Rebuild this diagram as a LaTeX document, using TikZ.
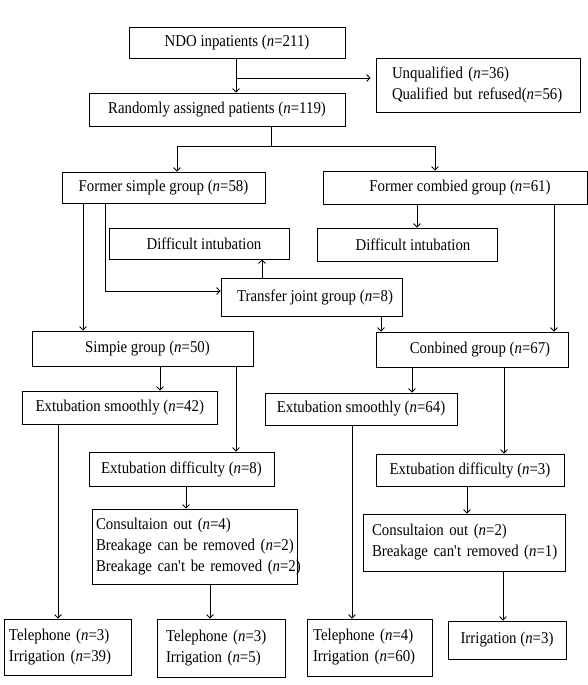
\documentclass[tikz,border=0pt]{standalone}
\usepackage{fontspec}
\setmainfont{Liberation Serif}[FakeStretch=0.9]
\usetikzlibrary{arrows.meta}
\newcommand\nn[1]{(\textit{n}=#1)}
\newcommand\apo{\textquotesingle}
\begin{document}
\begin{tikzpicture}[x=1pt,y=-1pt,
  box/.style={draw, line width=0.8pt, inner sep=0pt, font=\fontsize{16.5}{21}\selectfont},
  cbox/.style={box, minimum width=#1},
  lbox/.style={box, align=left, text width=#1},
  arr/.style={line width=0.8pt, -{Straight Barb[length=3.5pt,width=7pt]}},
  ln/.style={line width=0.8pt}]
\useasboundingbox (0,0) rectangle (588,685);
\fill[white] (0,0) rectangle (588,685);
% boxes
\node[cbox=216, minimum height=31] (ndo) at (237,42.5) {NDO inpatients \nn{211}};
\node[lbox=172, inner xsep=16pt, minimum height=54] (unq) at (478,85)
  {\mbox{Unqualified \nn{36}}\\\mbox{Qualified but refused\nn{56}}};
\node[cbox=256, minimum height=33] (rand) at (217,109.5) {Randomly assigned patients \nn{119}};
\node[cbox=203, minimum height=31] (fsg) at (163.5,187.5) {Former simple group \nn{58}};
\node[cbox=264, minimum height=33] (fcg) at (455,187.5) {\hspace*{10pt}Former combied group \nn{61}};
\node[cbox=180, minimum height=31] (dil) at (199,243.5) {\hspace*{10pt}Difficult intubation};
\node[cbox=180, minimum height=33] (dir) at (407,244.5) {\hspace*{12pt}Difficult intubation};
\node[cbox=181, minimum height=38] (tjg) at (311.5,297) {\hspace*{7pt}Transfer joint group \nn{8}};
\node[cbox=221, minimum height=35] (sg) at (142.5,348.5) {\hspace*{10pt}Simpie group \nn{50}};
\node[cbox=192, minimum height=35] (cg) at (472,349.5) {\hspace*{16pt}Conbined group \nn{67}};
\node[cbox=194.5, minimum height=33] (esl) at (119.75,407.5) {Extubation smoothly \nn{42}};
\node[cbox=192, minimum height=32] (esr) at (361,409) {Extubation smoothly \nn{64}};
\node[cbox=185, minimum height=34] (edl) at (181.5,469) {Extubation difficulty \nn{8}};
\node[cbox=188, minimum height=32] (edr) at (470,470) {Extubation difficulty \nn{3}};
\node[lbox=197, inner xsep=4pt, minimum height=75] (col) at (194.5,546.5)
  {\mbox{Consultaion out \nn{4}}\\\mbox{Breakage can be removed \nn{2}}\\\mbox{Breakage can\apo t be removed \nn{2}}};
\node[lbox=184, inner xsep=9pt, minimum height=57] (cor) at (464,542.5)
  {\mbox{Consultaion out \nn{2}}\\\mbox{Breakage can\apo t removed \nn{1}}};
\node[lbox=117, inner xsep=5pt, minimum height=56] (b1) at (67.5,647)
  {\mbox{Telephone \nn{3}}\\\mbox{Irrigation \nn{39}}};
\node[lbox=110, inner xsep=9pt, minimum height=58] (b2) at (221,648)
  {\mbox{Telephone \nn{3}}\\\mbox{Irrigation \nn{5}}};
\node[lbox=113, inner xsep=6pt, minimum height=57] (b3) at (369.5,647.5)
  {\mbox{Telephone \nn{4}}\\\mbox{Irrigation \nn{60}}};
\node[cbox=118, minimum height=38] (b4) at (507,640) {Irrigation \nn{3}};
% connectors
\draw[arr] (ndo.south -| 236,0) -- (rand.north -| 236,0);
\coordinate (br) at (236,78);
\draw[arr] (br) -- ([xshift=-5pt]unq.west |- br);
\coordinate (s1) at (271,146);
\draw[ln] (rand.south -| s1) -- (s1);
\draw[arr] (s1) -| (fsg.north -| 177,0);
\draw[arr] (s1) -| (fcg.north -| 435,0);
\draw[arr] (fsg.south -| 83,0) -- (sg.north -| 83,0);
\draw[arr] (fsg.south -| 105,0) |- (tjg.west |- 0,291);
\draw[arr] (tjg.north -| 262,0) -- (dil.south -| 262,0);
\draw[arr] (fcg.south -| 417,0) -- (dir.north -| 417,0);
\draw[arr] (fcg.south -| 554,0) -- (cg.north -| 554,0);
\draw[arr] (tjg.south -| 381,0) -- (cg.north -| 381,0);
\draw[arr] (sg.south -| 160,0) -- (esl.north -| 160,0);
\draw[arr] (sg.south -| 236,0) -- (edl.north -| 236,0);
\draw[arr] (cg.south -| 412,0) -- (esr.north -| 412,0);
\draw[arr] (cg.south -| 504,0) -- (edr.north -| 504,0);
\draw[arr] (esl.south -| 58,0) -- (b1.north -| 58,0);
\draw[arr] (esr.south -| 352,0) -- (b3.north -| 352,0);
\draw[arr] (edl.south -| 186,0) -- (col.north -| 186,0);
\draw[arr] (col.south -| 210,0) -- (b2.north -| 210,0);
\draw[arr] (edr.south -| 467,0) -- (cor.north -| 467,0);
\draw[arr] (cor.south -| 503,0) -- (b4.north -| 503,0);
\end{tikzpicture}
\end{document}
